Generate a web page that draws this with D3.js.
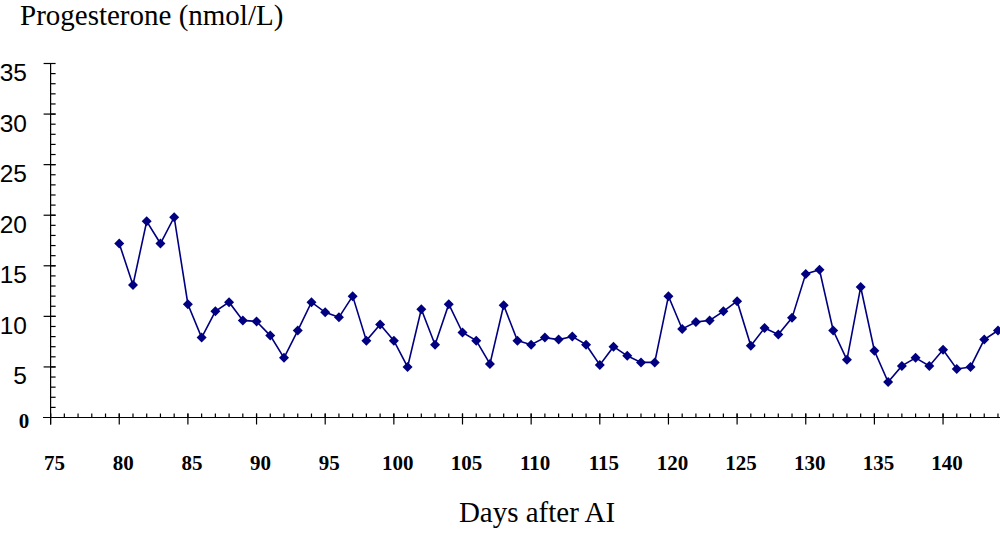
<!DOCTYPE html>
<html>
<head>
<meta charset="utf-8">
<script src="https://cdn.jsdelivr.net/npm/d3@7"></script>
<style>
  body { margin: 0; background: #fff; }
  svg { display: block; }
</style>
</head>
<body>
<svg id="chart" width="1000" height="533"></svg>
<script>
// days after AI and progesterone readings
const days = d3.range(80, 145);
const progesterone = [
  17.2, 13.1, 19.4, 17.2, 19.8, 11.2, 7.9, 10.5, 11.4, 9.6,
  9.5, 8.1, 5.9, 8.6, 11.4, 10.4, 9.9, 12.0, 7.6, 9.2,
  7.6, 5.0, 10.7, 7.2, 11.2, 8.4, 7.6, 5.3, 11.1, 7.6,
  7.2, 7.9, 7.7, 8.0, 7.2, 5.2, 7.0, 6.1, 5.45, 5.45,
  12.0, 8.75, 9.45, 9.6, 10.5, 11.5, 7.1, 8.85, 8.2, 9.85,
  14.2, 14.6, 8.6, 5.7, 12.9, 6.6, 3.5, 5.1, 5.9, 5.1,
  6.7, 4.8, 5.0, 7.7, 8.6
];
const xMajorTicks = d3.range(75, 145, 5);
const yMajorTicks = [5, 10, 15, 20, 25, 30, 35];

const data = days.map((d, i) => ({day: d, value: progesterone[i]}));

const svg = d3.select("#chart");

const x0 = 50.6, dayW = 13.73;
const xScale = d3.scaleLinear()
    .domain([75, 145])
    .range([x0, x0 + 70 * dayW]);

const yScale = d3.scaleLinear()
    .domain([0, 35])
    .range([417.5, 63.5]);

// x axis: line + minor ticks (inside) + major ticks (cross)
const xg = svg.append("g").attr("stroke", "#000").attr("stroke-width", 1.2);
xg.append("line")
    .attr("x1", 43).attr("x2", 1000)
    .attr("y1", yScale(0)).attr("y2", yScale(0));
xg.selectAll(".xminor")
    .data(d3.range(75, 145))
    .enter().append("line")
    .attr("x1", d => xScale(d)).attr("x2", d => xScale(d))
    .attr("y1", yScale(0) - 4).attr("y2", yScale(0));
xg.selectAll(".xmajor")
    .data(xMajorTicks)
    .enter().append("line")
    .attr("x1", d => xScale(d)).attr("x2", d => xScale(d))
    .attr("y1", yScale(0) - 4).attr("y2", yScale(0) + 7);

// y axis
const yg = svg.append("g").attr("stroke", "#000").attr("stroke-width", 1.2);
yg.append("line")
    .attr("x1", xScale(75)).attr("x2", xScale(75))
    .attr("y1", yScale(35)).attr("y2", yScale(0) + 7);
yg.selectAll(".yminor")
    .data(d3.range(1, 35))
    .enter().append("line")
    .attr("x1", xScale(75)).attr("x2", xScale(75) + 5)
    .attr("y1", d => yScale(d)).attr("y2", d => yScale(d));
yg.selectAll(".ymajor")
    .data(yMajorTicks)
    .enter().append("line")
    .attr("x1", xScale(75) - 7).attr("x2", xScale(75) + 5)
    .attr("y1", d => yScale(d)).attr("y2", d => yScale(d));

// y tick labels (sans) sit just below their tick; zero label in bold serif
svg.selectAll(".ylab")
    .data(yMajorTicks)
    .enter().append("text")
    .attr("x", 27)
    .attr("y", d => yScale(d) + 17.5)
    .attr("text-anchor", "end")
    .attr("font-family", "Liberation Sans, Arial, sans-serif")
    .attr("font-size", 24.5)
    .text(d => d);

svg.append("text")
    .attr("x", 24).attr("y", yScale(0) + 10)
    .attr("text-anchor", "middle")
    .attr("font-family", "Liberation Serif, Times New Roman, serif")
    .attr("font-weight", "bold")
    .attr("font-size", 21)
    .text("0");

// x tick labels
svg.selectAll(".xlab")
    .data(xMajorTicks)
    .enter().append("text")
    .attr("x", d => xScale(d) + 4)
    .attr("y", 470)
    .attr("text-anchor", "middle")
    .attr("font-family", "Liberation Serif, Times New Roman, serif")
    .attr("font-weight", "bold")
    .attr("font-size", 21)
    .text(d => d);

// series line
const line = d3.line()
    .x(d => xScale(d.day))
    .y(d => yScale(d.value));

svg.append("path")
    .datum(data)
    .attr("fill", "none")
    .attr("stroke", "#000080")
    .attr("stroke-width", 1.6)
    .attr("d", line);

// diamond markers
svg.selectAll(".pt")
    .data(data)
    .enter().append("path")
    .attr("transform", d => `translate(${xScale(d.day)},${yScale(d.value)})`)
    .attr("d", "M0,-5L5,0L0,5L-5,0Z")
    .attr("fill", "#000080");

// titles
svg.append("text")
    .attr("x", 20).attr("y", 25)
    .attr("font-family", "Liberation Serif, Times New Roman, serif")
    .attr("font-size", 29)
    .text("Progesterone (nmol/L)");

svg.append("text")
    .attr("x", 537).attr("y", 522)
    .attr("text-anchor", "middle")
    .attr("font-family", "Liberation Serif, Times New Roman, serif")
    .attr("font-size", 29)
    .text("Days after AI");
</script>
</body>
</html>
